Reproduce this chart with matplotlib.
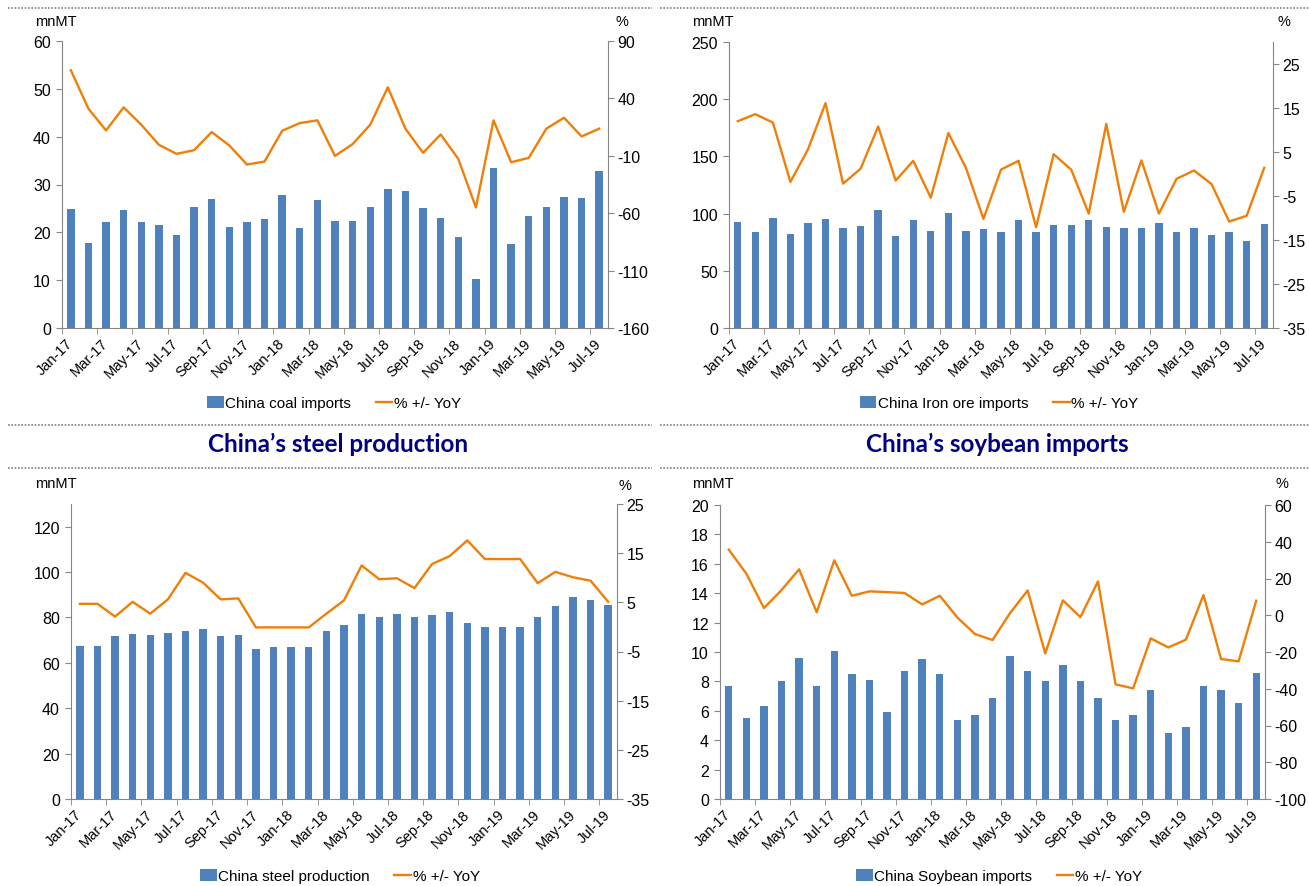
import numpy as np
import matplotlib.pyplot as plt
from matplotlib.lines import Line2D

# months Jan-17 .. Jul-19
months = ['Jan-17', 'Feb-17', 'Mar-17', 'Apr-17', 'May-17', 'Jun-17', 'Jul-17', 'Aug-17',
          'Sep-17', 'Oct-17', 'Nov-17', 'Dec-17', 'Jan-18', 'Feb-18', 'Mar-18', 'Apr-18',
          'May-18', 'Jun-18', 'Jul-18', 'Aug-18', 'Sep-18', 'Oct-18', 'Nov-18', 'Dec-18',
          'Jan-19', 'Feb-19', 'Mar-19', 'Apr-19', 'May-19', 'Jun-19', 'Jul-19']

# coal imports (mnMT) and yoy (%)
coal_imports = [24.9, 17.7, 22.1, 24.7, 22.1, 21.6, 19.5, 25.2, 27.0, 21.2, 22.1, 22.7,
                27.8, 20.9, 26.7, 22.3, 22.3, 25.4, 29.0, 28.6, 25.1, 23.1, 19.0, 10.2,
                33.5, 17.6, 23.5, 25.2, 27.4, 27.1, 32.9]
coal_yoy = [64.6, 31.1, 12.1, 32.2, 17.1, -0.4, -8.3, -5.1, 10.7, -1.0, -17.6, -15.0,
            11.8, 18.5, 20.9, -10.1, 0.2, 17.1, 49.7, 13.6, -7.4, 8.6, -12.7, -55.0,
            20.9, -15.6, -11.8, 13.6, 23.2, 6.9, 13.6]

# iron ore imports
iron_imports = [92.7, 84.2, 95.9, 82.5, 92.1, 95.3, 87.1, 89.2, 103.1, 80.4, 94.7, 84.8,
                100.8, 84.8, 86.5, 83.6, 94.7, 83.6, 90.3, 89.7, 94.4, 88.6, 87.1, 87.1,
                91.8, 83.6, 87.1, 81.3, 84.2, 75.8, 91.2]
iron_yoy = [12.0, 13.6, 11.7, -1.8, 5.6, 16.1, -2.2, 1.2, 10.8, -1.5, 3.0, -5.4,
            9.3, 1.4, -10.2, 1.0, 3.0, -12.1, 4.5, 1.0, -9.0, 11.4, -8.6, 3.1,
            -9.0, -1.1, 0.8, -2.3, -10.8, -9.5, 1.4]

# steel production
steel_prod = [67.5, 67.5, 72.0, 72.9, 72.3, 73.2, 74.1, 74.7, 72.0, 72.3, 66.1, 67.2,
              67.2, 67.2, 74.1, 76.7, 81.4, 80.1, 81.4, 80.4, 81.0, 82.6, 77.5, 76.0,
              76.0, 76.0, 80.4, 85.1, 89.2, 87.5, 85.6]
steel_yoy = [4.7, 4.7, 2.1, 5.1, 2.7, 5.6, 11.0, 9.0, 5.6, 5.8, -0.1, -0.1,
             -0.1, -0.1, 2.7, 5.4, 12.5, 9.7, 9.9, 7.9, 12.8, 14.4, 17.6, 13.8,
             13.8, 13.8, 8.9, 11.2, 10.1, 9.4, 5.1]

# soybean imports
soy_imports = [7.7, 5.5, 6.35, 8.0, 9.6, 7.7, 10.1, 8.5, 8.1, 5.9, 8.7, 9.5,
               8.5, 5.4, 5.7, 6.9, 9.7, 8.7, 8.0, 9.1, 8.0, 6.9, 5.4, 5.7,
               7.4, 4.5, 4.9, 7.7, 7.4, 6.5, 8.6]
soy_yoy = [35.7, 22.6, 3.9, 13.7, 25.0, 1.6, 29.9, 10.6, 13.0, 12.6, 12.1, 5.9,
           10.6, -1.2, -10.2, -13.5, 1.2, 13.5, -20.8, 8.1, -1.0, 18.4, -37.6, -39.8,
           -12.6, -17.5, -13.3, 11.0, -23.8, -25.1, 7.9]

W, H = 1309, 887
BAR = '#4F81BD'
LINE = '#F07F09'
GREY = '#868686'
plt.rcParams['font.family'] = ['Liberation Sans Narrow', 'Liberation Sans', 'DejaVu Sans']
plt.rcParams['axes.unicode_minus'] = False

fig = plt.figure(figsize=(W / 100, H / 100), dpi=100)


def fx(px):
    return px / W


def fy(py):
    return 1 - py / H


def panel(box, bars, yoy, bar_label, ylim, yticks, y2lim, y2ticks, legend_xy, unit_xy, pct_xy):
    l, t, r, b = box
    ax = fig.add_axes([fx(l), fy(b), (r - l) / W, (b - t) / H])
    x = np.arange(len(months))
    ax.bar(x, bars, width=0.42, color=BAR, label=bar_label, zorder=2)
    ax.set_xlim(-0.5, len(months) - 0.5)
    ax.set_ylim(*ylim)
    ax.set_yticks(yticks)
    ax.set_xticks(x[::2])
    ax.set_xticklabels(months[::2], rotation=45, ha='right', va='center',
                       rotation_mode='anchor', fontsize=10.5)
    ax.set_xticks(np.arange(-0.5, len(months) - 1, 2), minor=True)
    ax.tick_params(axis='x', which='major', length=0, pad=9)
    ax.tick_params(axis='x', which='minor', length=4, color=GREY, direction='out')
    ax.tick_params(axis='y', length=4, color=GREY, labelsize=11.5, pad=4)
    for s in ['top', 'right']:
        ax.spines[s].set_visible(False)
    for s in ['left', 'bottom']:
        ax.spines[s].set_color(GREY)

    ax2 = ax.twinx()
    ax2.plot(x, yoy, color=LINE, lw=1.7, label='% +/- YoY', zorder=3)
    ax2.set_ylim(*y2lim)
    ax2.set_yticks(y2ticks)
    ax2.tick_params(axis='y', length=4, color=GREY, labelsize=11.5, pad=3)
    for s in ['top', 'left', 'bottom']:
        ax2.spines[s].set_visible(False)
    ax2.spines['right'].set_color(GREY)

    fig.text(fx(unit_xy[0]), fy(unit_xy[1]), 'mnMT', ha='center', va='center', fontsize=10.5)
    fig.text(fx(pct_xy[0]), fy(pct_xy[1]), '%', ha='center', va='center', fontsize=10.5)

    h1, l1 = ax.get_legend_handles_labels()
    h2, l2 = ax2.get_legend_handles_labels()
    fig.legend(h1 + h2, l1 + l2, loc='center', bbox_to_anchor=(fx(legend_xy[0]), fy(legend_xy[1])),
               ncol=2, frameon=False, fontsize=11, handlelength=1.1, handleheight=0.9,
               handletextpad=0.1, columnspacing=1.6)
    return ax


panel((62, 42, 608, 329), coal_imports, coal_yoy, 'China coal imports',
      (0, 60), range(0, 61, 10), (-160, 90), range(-160, 91, 50),
      (334, 404), (56, 22), (622, 22))
panel((729, 43, 1273, 329), iron_imports, iron_yoy, 'China Iron ore imports',
      (0, 250), range(0, 251, 50), (-35, 30), range(-35, 26, 10),
      (999, 404), (713, 22), (1284, 22))
panel((71, 505, 617, 800), steel_prod, steel_yoy, 'China steel production',
      (0, 130), range(0, 121, 20), (-35, 25), range(-35, 26, 10),
      (340, 877), (56, 484), (625, 486))
panel((720, 506, 1265, 800), soy_imports, soy_yoy, 'China Soybean imports',
      (0, 20), range(0, 21, 2), (-100, 60), range(-100, 61, 20),
      (999, 877), (713, 484), (1282, 484))

# section titles
fig.text(fx(338), fy(444), 'China\u2019s steel production', ha='center', va='center',
         fontsize=17.5, fontweight='bold', color='#000080', family='Lato')
fig.text(fx(997), fy(444), 'China\u2019s soybean imports', ha='center', va='center',
         fontsize=17.5, fontweight='bold', color='#000080', family='Lato')

# dotted separators
for yy in (9, 426, 469):
    for x0, x1 in ((8, 652), (660, 1309)):
        fig.add_artist(Line2D([fx(x0), fx(x1)], [fy(yy), fy(yy)], color='#808080',
                              lw=1.2, linestyle=(0, (1, 1))))

fig.savefig('out.png', dpi=100)
